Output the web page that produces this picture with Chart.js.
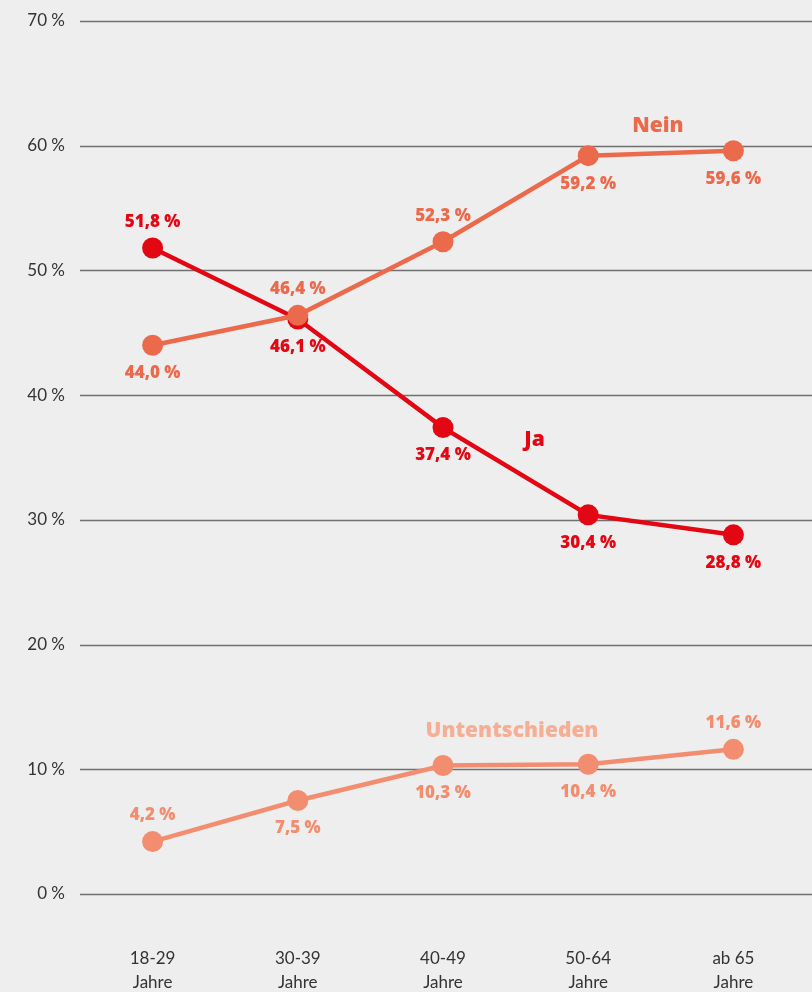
<!DOCTYPE html>
<html lang="de">
<head>
<meta charset="UTF-8">
<title>Umfrage nach Altersgruppen</title>
<script src="https://cdn.jsdelivr.net/npm/chart.js"></script>
<style>
    html, body { margin: 0; padding: 0; background: #eeeeee; }
    #wrap { width: 812px; height: 992px; }
</style>
</head>
<body>
<div id="wrap"><canvas id="chart" width="812" height="992"></canvas></div>
<script>
    // Altersgruppen (zweizeilige Achsenbeschriftung)
    const categories = [['18-29', 'Jahre'], ['30-39', 'Jahre'], ['40-49', 'Jahre'], ['50-64', 'Jahre'], ['ab 65', 'Jahre']];
    const neinValues = [44.0, 46.4, 52.3, 59.2, 59.6];
    const jaValues = [51.8, 46.1, 37.4, 30.4, 28.8];
    const untValues = [4.2, 7.5, 10.3, 10.4, 11.6];
    const yTicks = [0, 10, 20, 30, 40, 50, 60, 70];

    // where each value label sits relative to its point
    const neinLabelPos = ['below', 'above', 'above', 'below', 'below'];
    const jaLabelPos = ['above', 'below', 'below', 'below', 'below'];
    const untLabelPos = ['above', 'below', 'below', 'below', 'above'];

    // series names, placed in data units
    const seriesNames = [
        { text: 'Nein', x: 3.48, y: 61.6, color: '#ec6a4c' },
        { text: 'Ja', x: 2.63, y: 36.4, color: '#e30613' },
        { text: 'Untentschieden', x: 2.475, y: 13.05, color: '#f6ae94' }
    ];

    const fmt = v => v.toFixed(1).replace('.', ',') + ' %';

    const gridPlugin = {
        id: 'fullGrid',
        beforeDatasetsDraw(chart) {
            const ctx = chart.ctx, y = chart.scales.y;
            ctx.save();
            ctx.strokeStyle = '#707070';
            ctx.lineWidth = 1.5;
            yTicks.forEach(t => {
                const py = Math.round(y.getPixelForValue(t)) + 0.5;
                ctx.beginPath();
                ctx.moveTo(chart.chartArea.left, py);
                ctx.lineTo(chart.width, py);
                ctx.stroke();
            });
            ctx.restore();
        }
    };

    const labelPlugin = {
        id: 'valueLabels',
        afterDatasetsDraw(chart) {
            const ctx = chart.ctx;
            ctx.save();
            ctx.font = '800 17px "Open Sans", Lato, sans-serif';
            ctx.textAlign = 'center';
            ctx.textBaseline = 'middle';
            chart.data.datasets.forEach((ds, i) => {
                const meta = chart.getDatasetMeta(i);
                ctx.fillStyle = ds.borderColor;
                meta.data.forEach((pt, j) => {
                    const dy = ds.labelPos[j] === 'above' ? -26 : 28;
                    ctx.fillText(fmt(ds.data[j]), pt.x, pt.y + dy);
                });
            });
            ctx.font = '800 21px "Open Sans", Lato, sans-serif';
            const xs = chart.scales.x, ys = chart.scales.y;
            seriesNames.forEach(s => {
                ctx.fillStyle = s.color;
                ctx.fillText(s.text, xs.getPixelForValue(s.x), ys.getPixelForValue(s.y));
            });
            ctx.restore();
        }
    };

    function series(label, data, color, labelPos) {
        return {
            label: label,
            data: data,
            labelPos: labelPos,
            borderColor: color,
            backgroundColor: color,
            pointBackgroundColor: color,
            pointBorderWidth: 0,
            pointRadius: 10.5,
            borderWidth: 4.5,
            tension: 0,
            clip: false
        };
    }

    new Chart(document.getElementById('chart'), {
        type: 'line',
        data: {
            labels: categories,
            datasets: [
                series('Nein', neinValues, '#ec6a4c', neinLabelPos),
                series('Ja', jaValues, '#e30613', jaLabelPos),
                series('Untentschieden', untValues, '#f28d6f', untLabelPos)
            ]
        },
        options: {
            responsive: false,
            animation: false,
            layout: { autoPadding: false, padding: { top: 21, right: 6, left: 0, bottom: 0 } },
            plugins: { legend: { display: false }, tooltip: { enabled: false } },
            scales: {
                x: {
                    offset: true,
                    grid: { display: false, drawTicks: false },
                    border: { display: false },
                    ticks: {
                        color: '#333333',
                        font: { family: 'Lato, "Open Sans", sans-serif', size: 17, lineHeight: 1.42 },
                        padding: 52,
                        maxRotation: 0
                    },
                    afterFit(scale) {
                        scale.height = 98;
                        scale.paddingLeft = 0;
                        scale.paddingRight = 0;
                    }
                },
                y: {
                    min: 0,
                    max: 70,
                    afterBuildTicks(scale) { scale.ticks = yTicks.map(v => ({ value: v })); },
                    grid: { display: false, drawTicks: false },
                    border: { display: false },
                    ticks: {
                        color: '#333333',
                        font: { family: 'Lato, "Open Sans", sans-serif', size: 17 },
                        padding: 15,
                        callback: v => v + ' %'
                    },
                    afterFit(scale) {
                        scale.width = 80;
                        scale.paddingTop = 0;
                        scale.paddingBottom = 0;
                    }
                }
            }
        },
        plugins: [gridPlugin, labelPlugin]
    });
</script>
</body>
</html>
